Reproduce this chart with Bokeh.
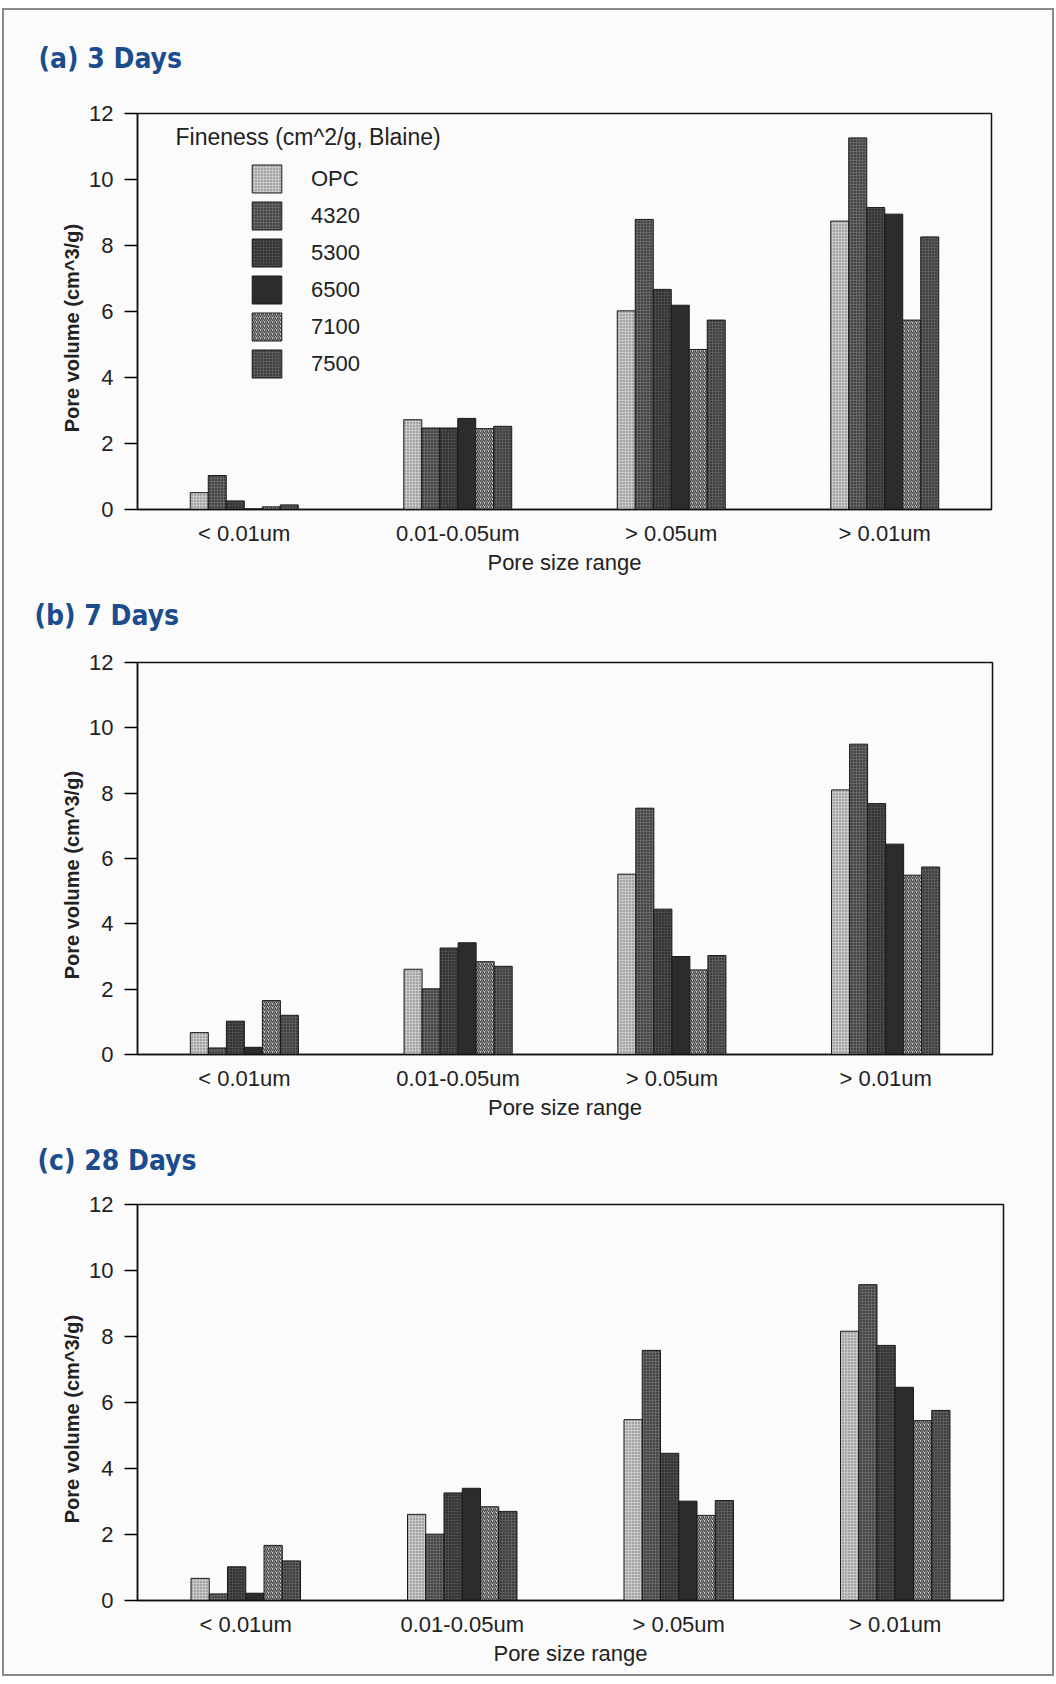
from bokeh.plotting import figure
from bokeh.models import FactorRange, Range1d, FixedTicker, Label, Legend, LegendItem, ColumnDataSource, Title
from bokeh.transform import dodge
from bokeh.layouts import column
from bokeh.embed import file_html
from bokeh.resources import INLINE

# ---------------- data ----------------
categories = ["< 0.01um", "0.01-0.05um", "> 0.05um", "> 0.01um"]
series = ["OPC", "4320", "5300", "6500", "7100", "7500"]
y_ticks = [0, 2, 4, 6, 8, 10, 12]

# (a) 3 days
d3_opc = [0.51, 2.72, 6.02, 8.74]
d3_4320 = [1.03, 2.47, 8.79, 11.26]
d3_5300 = [0.26, 2.47, 6.67, 9.15]
d3_6500 = [0.02, 2.76, 6.19, 8.95]
d3_7100 = [0.08, 2.45, 4.85, 5.74]
d3_7500 = [0.14, 2.52, 5.74, 8.26]

# (b) 7 days
d7_opc = [0.67, 2.61, 5.52, 8.10]
d7_4320 = [0.20, 2.01, 7.54, 9.50]
d7_5300 = [1.02, 3.26, 4.45, 7.68]
d7_6500 = [0.22, 3.42, 3.00, 6.44]
d7_7100 = [1.65, 2.84, 2.59, 5.49]
d7_7500 = [1.20, 2.70, 3.03, 5.74]

# (c) 28 days
d28_opc = [0.67, 2.61, 5.48, 8.16]
d28_4320 = [0.20, 2.01, 7.58, 9.57]
d28_5300 = [1.02, 3.26, 4.46, 7.73]
d28_6500 = [0.22, 3.40, 3.01, 6.46]
d28_7100 = [1.67, 2.84, 2.58, 5.45]
d28_7500 = [1.20, 2.70, 3.03, 5.76]

# ---------------- styles ----------------
STYLES = [
    dict(fill_color="#c9c9c9", hatch_pattern="dot", hatch_color="#666666", hatch_scale=3, hatch_weight=1.5),
    dict(fill_color="#666666", hatch_pattern="dot", hatch_color="#111111", hatch_scale=3, hatch_weight=2),
    dict(fill_color="#4a4a4a", hatch_pattern="dot", hatch_color="#0e0e0e", hatch_scale=3, hatch_weight=2),
    dict(fill_color="#2a2d2a"),
    dict(fill_color="#cccccc", hatch_pattern="right_diagonal_line", hatch_color="#444444", hatch_scale=4, hatch_weight=1.3),
    dict(fill_color="#5c5c5c", hatch_pattern="dot", hatch_color="#111111", hatch_scale=3, hatch_weight=2),
]
FONT = "Liberation Sans"
TITLE_FONT = "'Liberation Sans Narrow', 'DejaVu Sans Condensed', sans-serif"
TXT = "#222222"
BG = "#fbfbfb"
BAR_W = 0.0843
TOTAL_W = 1048
NB = "\u00a0"


def make_panel(title, data, left, frame_w, top, frame_h, bottom, title_dx, gap, legend=False):
    p = figure(x_range=FactorRange(*categories), y_range=Range1d(0, 12),
               frame_width=frame_w, frame_height=frame_h,
               min_border_left=left, min_border_right=TOTAL_W - left - frame_w,
               min_border_top=top, min_border_bottom=bottom,
               output_backend="svg", toolbar_location=None,
               background_fill_color=BG, border_fill_color=BG)
    p.xgrid.visible = False
    p.ygrid.visible = False
    p.outline_line_color = "#111111"
    p.outline_line_width = 1.5

    renderers = []
    for i, (name, vals) in enumerate(zip(series, data)):
        src = ColumnDataSource(dict(cat=categories, v=vals))
        r = p.vbar(x=dodge("cat", (i - 2.5) * BAR_W, range=p.x_range), top="v", width=BAR_W,
                   source=src, line_color="#1a1a1a", line_width=1, **STYLES[i])
        renderers.append((name, r))

    ya = p.yaxis[0]
    ya.ticker = FixedTicker(ticks=y_ticks)
    ya.axis_label = "Pore volume (cm^3/g)" + NB * 6
    ya.axis_label_text_font = FONT
    ya.axis_label_text_font_size = "20px"
    ya.axis_label_text_font_style = "bold"
    ya.axis_label_text_color = TXT
    ya.axis_label_standoff = 3
    ya.major_label_text_font = FONT
    ya.major_label_text_font_size = "22px"
    ya.major_label_text_color = TXT
    ya.major_label_standoff = 11
    ya.major_tick_out = 13
    ya.major_tick_in = 0
    ya.minor_tick_line_color = None
    ya.axis_line_width = 1.5
    ya.major_tick_line_width = 1.5
    ya.axis_line_color = "#111111"

    xa = p.xaxis[0]
    xa.axis_label = "Pore size range"
    xa.axis_label_text_font = FONT
    xa.axis_label_text_font_size = "22px"
    xa.axis_label_text_font_style = "normal"
    xa.axis_label_text_color = TXT
    xa.axis_label_standoff = 1
    xa.major_label_text_font = FONT
    xa.major_label_text_font_size = "22px"
    xa.major_label_text_color = TXT
    xa.major_label_standoff = 5
    xa.major_tick_line_color = None
    xa.axis_line_width = 1.5
    xa.axis_line_color = "#111111"

    spacer = Title(text=NB, text_font_size=f"{gap}px", text_color=BG)
    p.add_layout(spacer, "above")
    t = Title(text=title, align="left", offset=title_dx, vertical_align="bottom",
              text_font=TITLE_FONT, text_font_style="bold",
              text_font_size="28px", text_color="#1d4c8c")
    p.add_layout(t, "above")

    if legend:
        p.add_layout(Label(x=38, y=frame_h - 23, x_units="screen", y_units="screen",
                           text="Fineness (cm^2/g, Blaine)", text_font=FONT, text_font_size="23px",
                           text_color=TXT, text_baseline="middle"))
        lg = Legend(items=[LegendItem(label=n, renderers=[r]) for n, r in renderers],
                    location=(111, 128), glyph_width=37, glyph_height=35, label_height=35,
                    spacing=2, label_standoff=26, padding=0, margin=0,
                    border_line_color=None, background_fill_alpha=0,
                    label_text_font=FONT, label_text_font_size="22px", label_text_color=TXT)
        p.add_layout(lg)
    return p


pa = make_panel("(a) 3 Days", [d3_opc, d3_4320, d3_5300, d3_6500, d3_7100, d3_7500],
                132, 854, 103, 396, 70, -99, 20, legend=True)
pb = make_panel("(b) 7 Days", [d7_opc, d7_4320, d7_5300, d7_6500, d7_7100, d7_7500],
                133, 855, 83, 392, 70, -103, 12)
pc = make_panel("(c) 28 Days", [d28_opc, d28_4320, d28_5300, d28_6500, d28_7100, d28_7500],
                130, 866, 80, 396, 74, -100, 10)

layout = column(pa, pb, pc, styles={"border": "2px solid #8a8a8a", "background-color": BG,
                                    "margin-left": "2px", "margin-top": "8px"})

with open("out.html", "w") as f:
    f.write(file_html(layout, INLINE))
